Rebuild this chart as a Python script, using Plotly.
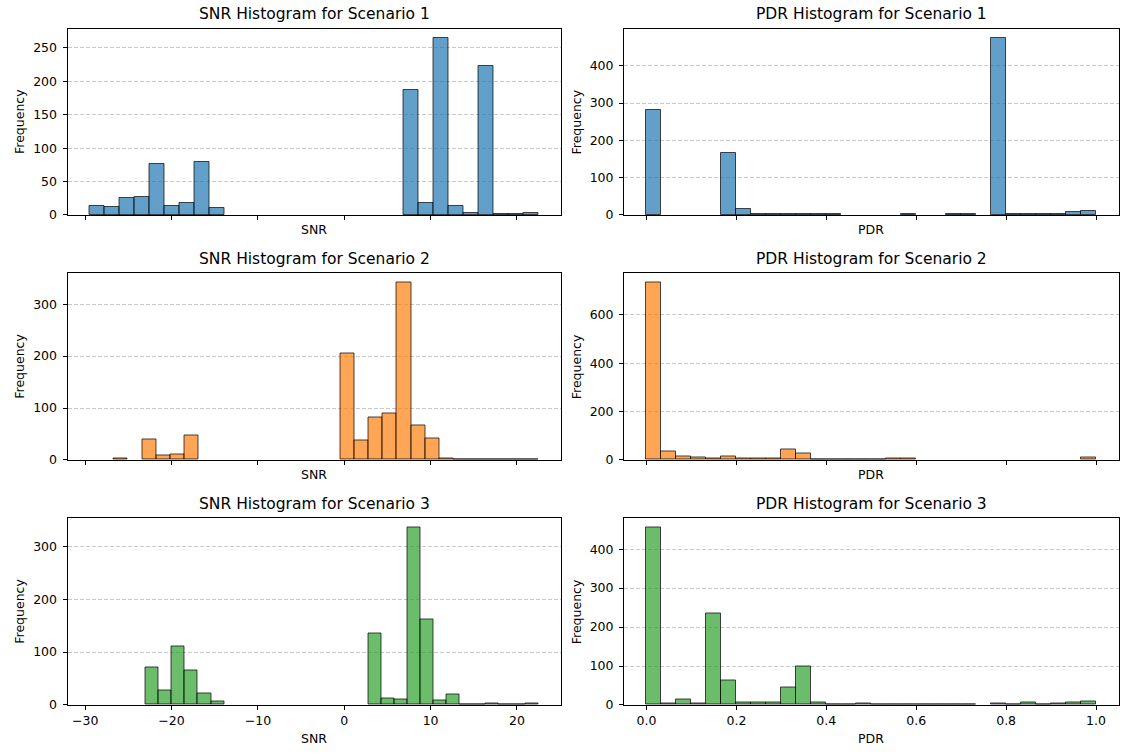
import numpy as np
import plotly.graph_objects as go

# ---- histogram data (30 bins per panel) ----
snr_range_s1 = (-29.45, 22.5)
snr_range_s2 = (-26.7, 22.5)
snr_range_s3 = (-23.0, 22.45)
pdr_range = (0.0, 1.0)

snr_counts_s1 = [14, 12, 25, 27, 77, 14, 18, 79, 11, 0, 0, 0, 0, 0, 0,
                 0, 0, 0, 0, 0, 0, 187, 18, 265, 14, 3, 223, 1, 1, 3]
snr_counts_s2 = [3, 0, 40, 9, 11, 48, 0, 0, 0, 0, 0, 0, 0, 0, 0,
                 0, 205, 38, 81, 89, 342, 66, 42, 2, 1, 1, 1, 1, 1, 1]
snr_counts_s3 = [70, 28, 110, 65, 21, 6, 0, 0, 0, 0, 0, 0, 0, 0, 0,
                 0, 0, 136, 12, 10, 336, 161, 9, 20, 1, 1, 3, 1, 1, 3]

pdr_counts_s1 = [281, 0, 0, 0, 0, 167, 17, 4, 2, 4, 2, 2, 2, 0, 0,
                 0, 0, 2, 0, 0, 2, 2, 0, 475, 2, 2, 2, 2, 7, 12]
pdr_counts_s2 = [735, 35, 15, 11, 7, 15, 7, 7, 7, 44, 27, 2, 2, 2, 2,
                 2, 6, 6, 0, 0, 0, 0, 0, 0, 0, 0, 0, 0, 0, 11]
pdr_counts_s3 = [456, 5, 14, 5, 236, 64, 6, 6, 6, 44, 99, 7, 2, 2, 4,
                 2, 2, 2, 2, 2, 2, 2, 0, 4, 2, 6, 2, 4, 6, 10]

scenario_names = ["Scenario 1", "Scenario 2", "Scenario 3"]
snr_ticks = [-30, -20, -10, 0, 10, 20]
snr_tick_text = ["\u221230", "\u221220", "\u221210", "0", "10", "20"]
pdr_ticks = [0.0, 0.2, 0.4, 0.6, 0.8, 1.0]
pdr_tick_text = ["0.0", "0.2", "0.4", "0.6", "0.8", "1.0"]
y_tick_steps = [(50, 100), (100, 200), (100, 100)]

# ---- styling ----
W, H = 1135, 755
FONT = "DejaVu Sans"
face_colors = ["rgba(31,119,180,0.7)", "rgba(255,127,14,0.7)", "rgba(44,160,44,0.7)"]
edge_color = "rgba(0,0,0,0.7)"
grid_color = "rgba(176,176,176,0.7)"

# axes boxes in pixels: (left, right) columns, (top, bottom) rows
cols_px = [(67.5, 561.0), (624.0, 1118.5)]
rows_px = [(29.0, 215.0), (273.5, 460.0), (518.5, 705.0)]
Y_STRETCH = 1.0093  # vertical layout scale


def px_x(x):
    return x / W


def px_y(y):
    return 1 - (y * Y_STRETCH) / H


snr_sets = [(snr_range_s1, snr_counts_s1), (snr_range_s2, snr_counts_s2), (snr_range_s3, snr_counts_s3)]
pdr_sets = [(pdr_range, pdr_counts_s1), (pdr_range, pdr_counts_s2), (pdr_range, pdr_counts_s3)]

# shared x ranges per column, padded 5% like matplotlib autoscale
snr_lo = min(r[0] for r, _ in snr_sets)
snr_hi = max(r[1] for r, _ in snr_sets)
snr_pad = 0.05 * (snr_hi - snr_lo)
pdr_lo, pdr_hi = pdr_range
pdr_pad = 0.05 * (pdr_hi - pdr_lo)
x_ranges = [[snr_lo - snr_pad, snr_hi + snr_pad], [pdr_lo - pdr_pad, pdr_hi + pdr_pad]]

fig = go.Figure()
annotations = []
layout_axes = {}

panel = 0
for r in range(3):
    for c in range(2):
        panel += 1
        xa = "x" if panel == 1 else f"x{panel}"
        ya = "y" if panel == 1 else f"y{panel}"
        (lo, hi), counts = (snr_sets if c == 0 else pdr_sets)[r]
        counts = np.asarray(counts, dtype=float)
        edges = np.linspace(lo, hi, len(counts) + 1)
        centers = 0.5 * (edges[:-1] + edges[1:])
        widths = np.diff(edges)
        # empty bins get no outline so the baseline stays a single spine
        line_widths = np.where(counts > 0, 1.0, 0.0)
        fig.add_trace(go.Bar(
            x=centers, y=counts, width=widths,
            marker=dict(color=face_colors[r],
                        line=dict(color=edge_color, width=line_widths)),
            xaxis=xa, yaxis=ya, showlegend=False, hoverinfo="x+y",
        ))

        left, right = cols_px[c]
        top, bottom = rows_px[r]
        ymax = counts.max() * 1.05
        step = y_tick_steps[r][c]
        yticks = list(np.arange(0, ymax, step))

        xkey = "xaxis" if panel == 1 else f"xaxis{panel}"
        ykey = "yaxis" if panel == 1 else f"yaxis{panel}"
        layout_axes[xkey] = dict(
            domain=[px_x(left), px_x(right)], anchor=ya,
            range=x_ranges[c], showgrid=False, zeroline=False,
            showline=True, mirror=True, linecolor="black", linewidth=1,
            ticks="outside", ticklen=4, tickwidth=1, tickcolor="black",
            tickvals=snr_ticks if c == 0 else pdr_ticks,
            ticktext=snr_tick_text if c == 0 else pdr_tick_text,
            showticklabels=(r == 2),
            tickfont=dict(family=FONT, size=12.5, color="black"),
            ticklabelstandoff=0,
        )
        layout_axes[ykey] = dict(
            domain=[px_y(bottom), px_y(top)], anchor=xa,
            range=[0, ymax], showgrid=True, gridcolor=grid_color, gridwidth=1,
            griddash="4px,2px", zeroline=False,
            showline=True, mirror=True, linecolor="black", linewidth=1,
            ticks="outside", ticklen=4, tickwidth=1, tickcolor="black",
            tickvals=yticks, ticktext=[str(int(v)) for v in yticks],
            tickfont=dict(family=FONT, size=12.5, color="black"),
            ticklabelstandoff=3,
        )

        metric = "SNR" if c == 0 else "PDR"
        cx = px_x(0.5 * (left + right))
        annotations.append(dict(
            text=f"{metric} Histogram for {scenario_names[r]}",
            x=cx, y=px_y(top - 14.5), xref="paper", yref="paper",
            xanchor="center", yanchor="middle", showarrow=False,
            font=dict(family=FONT, size=15.5, color="black"),
        ))
        label_y = bottom + (34 if r == 2 else 15)
        annotations.append(dict(
            text=metric, x=cx, y=px_y(label_y), xref="paper", yref="paper",
            xanchor="center", yanchor="middle", showarrow=False,
            font=dict(family=FONT, size=12.5, color="black"),
        ))
        annotations.append(dict(
            text="Frequency", x=px_x(left - 47.5), y=px_y(0.5 * (top + bottom)),
            xref="paper", yref="paper", xanchor="center", yanchor="middle",
            textangle=-90, showarrow=False,
            font=dict(family=FONT, size=12.5, color="black"),
        ))

fig.update_layout(
    width=W, height=H,
    margin=dict(l=0, r=0, t=0, b=0),
    paper_bgcolor="white", plot_bgcolor="white",
    bargap=0, annotations=annotations,
    font=dict(family=FONT, color="black"),
    **layout_axes,
)

fig.write_html("out.html")
